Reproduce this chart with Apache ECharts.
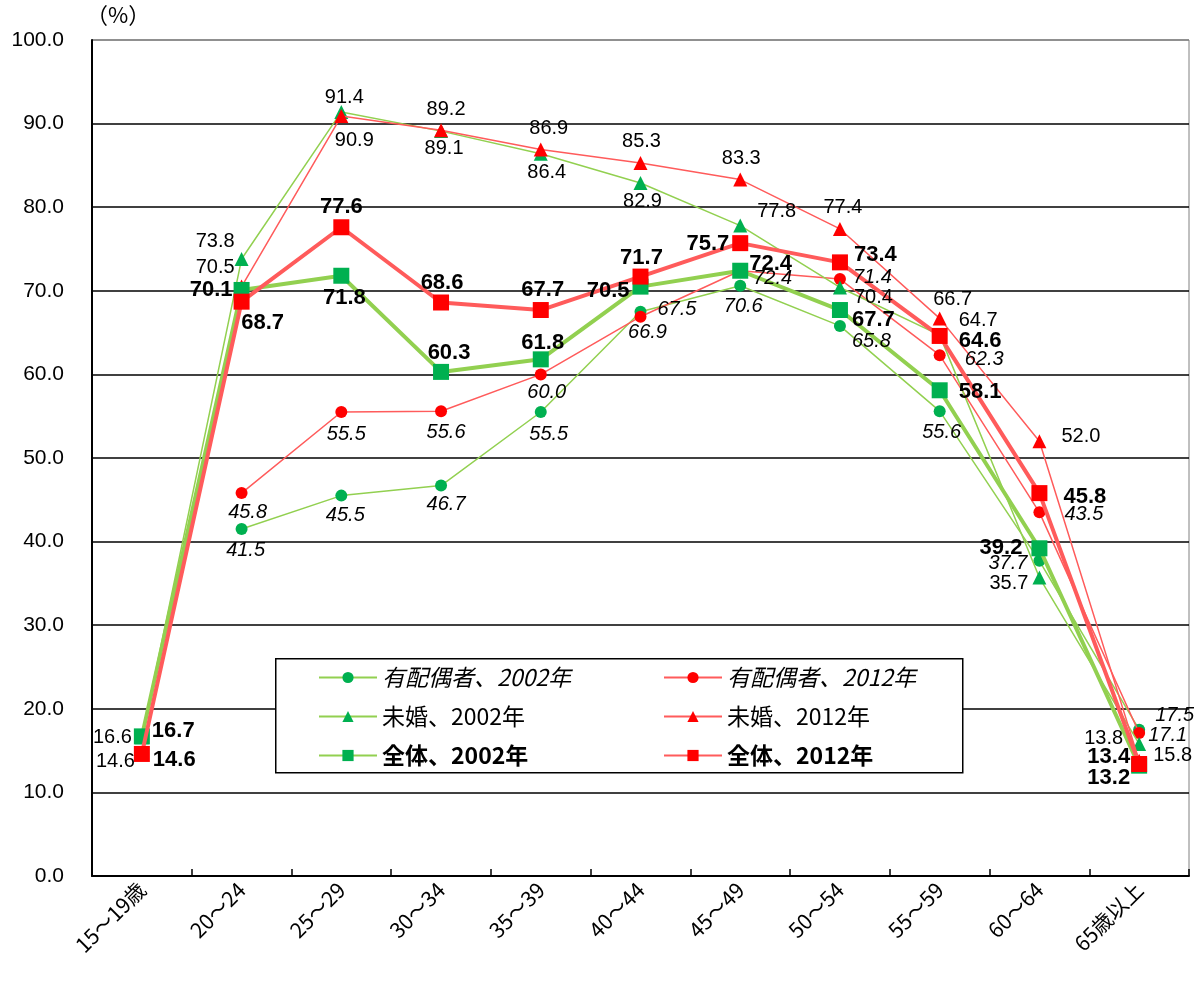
<!DOCTYPE html>
<html>
<head>
<meta charset="utf-8">
<script src="https://cdn.jsdelivr.net/npm/echarts@6/dist/echarts.min.js"></script>
<style>
  html, body { margin: 0; padding: 0; background: #fff; }
  #chart { width: 1194px; height: 981px; }
</style>
</head>
<body>
<div id="chart"></div>
<script>
// Age groups on the x axis
const categories = ['15～19歳', '20～24', '25～29', '30～34', '35～39', '40～44', '45～49', '50～54', '55～59', '60～64', '65歳以上'];

// Participation rates (%)
const spouse2002 = [null, 41.5, 45.5, 46.7, 55.5, 67.5, 70.6, 65.8, 55.6, 37.7, 17.5];
const spouse2012 = [null, 45.8, 55.5, 55.6, 60.0, 66.9, 72.4, 71.4, 62.3, 43.5, 17.1];
const single2002 = [16.6, 73.8, 91.4, 89.1, 86.4, 82.9, 77.8, 70.4, 64.7, 35.7, 15.8];
const single2012 = [14.6, 70.5, 90.9, 89.2, 86.9, 85.3, 83.3, 77.4, 66.7, 52.0, 13.8];
const total2002  = [16.7, 70.1, 71.8, 60.3, 61.8, 70.5, 72.4, 67.7, 58.1, 39.2, 13.2];
const total2012  = [14.6, 68.7, 77.6, 68.6, 67.7, 71.7, 75.7, 73.4, 64.6, 45.8, 13.4];

// Y axis tick settings
const yMin = 0, yMax = 100, yStep = 10;

// Label placement per point: [position, distance, dx, dy]
const placeSpouse2002 = [null, ['bottom', 5, 4, 0], ['bottom', 4, 4, 0], ['bottom', 3, 5, 0], ['bottom', 6, 8, 0], ['right', 11, 0, -2],
  ['bottom', 5, 3, 0], ['right', 4, 2, 16], ['bottom', 5, 2, 0], ['left', 6, 0, 3], ['right', 5, 5, -14]];
const placeSpouse2012 = [null, ['bottom', 3, 6, 0], ['bottom', 6, 5, 0], ['bottom', 5, 5, 0], ['bottom', 2, 6, 0], ['bottom', 0, 7, 0],
  ['right', 4, 3, 8], ['right', 7, 0, -2], ['right', 19, 0, 4], ['right', 19, 0, 2], ['right', 3, 0, 2]];
const placeSingle2002 = [['left', 3, 0, 0], ['left', 0, 0, -18], ['top', -3, 3, 0], ['bottom', 0, 3, 0], ['bottom', 2, 6, 0], ['bottom', 2, 2, 0],
  ['right', 4, 6, -14], ['right', 4, 3, 10], ['right', 4, 8, -15], ['left', 4, 0, 6], ['right', 4, 3, 12]];
const placeSingle2012 = [['left', 0, 0, 8], ['left', 0, 0, -19], ['bottom', 4, 13, 3], ['top', 4, 5, 0], ['top', 4, 8, 0], ['top', 4, 1, 0],
  ['top', 4, 1, 0], ['top', 4, 3, 0], ['top', 4, 13, 2], ['right', 15, 0, -5], ['left', 9, 0, -22]];
const placeTotal2002 = [['right', 2, 0, -5], ['left', 1, 0, 0], ['bottom', 3, 3, 0], ['top', 0, 8, 0], ['top', -3, 2, 0], ['left', 3, 0, 4],
  ['right', 1, 0, -7], ['right', 4, 0, 10], ['right', 11, 0, 2], ['left', 9, 0, 0], ['left', 1, 0, 12]];
const placeTotal2012 = [['right', 3, 0, 6], ['bottom', 2, 21, 0], ['top', 1, 0, 0], ['top', 1, 1, 0], ['top', 1, 2, 0], ['top', 0, 1, 0],
  ['left', 3, 0, 1], ['right', 6, 0, -7], ['right', 11, 0, 5], ['right', 16, 0, 4], ['left', 1, 0, -7]];

const GREEN_LINE = '#92D050', GREEN_MARK = '#00B050';
const RED_LINE = '#FF5B5B', RED_MARK = '#FF0000';
const NUM_FONT = '"Liberation Sans", Arial, "Noto Sans CJK JP", sans-serif';
const JP_FONT = '"Noto Sans CJK JP", "Liberation Sans", sans-serif';

function buildData(values, places) {
  return values.map((v, i) => {
    if (v == null) return null;
    const p = places[i];
    return {
      value: v,
      label: { position: p[0], distance: p[1], offset: [p[2], p[3]] }
    };
  });
}

// Each group is drawn as a visible line series plus a transparent twin
// above every line that carries the value labels, so no line covers a label.
function makeSeries(name, values, places, opt) {
  const lineSeries = {
    name: name,
    type: 'line',
    data: values,
    symbol: opt.symbol,
    symbolSize: opt.size,
    showAllSymbol: true,
    connectNulls: false,
    lineStyle: { color: opt.line, width: opt.width },
    itemStyle: { color: opt.mark },
    z: opt.z,
    label: { show: false },
    emphasis: { disabled: true },
    animation: false
  };
  const labelSeries = {
    name: name + '（数値）',
    type: 'line',
    data: buildData(values, places),
    symbol: opt.symbol,
    symbolSize: opt.size,
    showAllSymbol: true,
    connectNulls: false,
    lineStyle: { opacity: 0, width: 0 },
    itemStyle: { color: 'rgba(0,0,0,0)' },
    z: 20,
    silent: true,
    label: {
      show: true,
      color: '#000',
      fontFamily: NUM_FONT,
      fontSize: opt.fontSize,
      fontStyle: opt.fontStyle || 'normal',
      fontWeight: opt.fontWeight || 'normal',
      formatter: p => p.value.toFixed(1)
    },
    emphasis: { disabled: true },
    animation: false
  };
  return [lineSeries, labelSeries];
}

const series = [].concat(
  makeSeries('有配偶者、2002年', spouse2002, placeSpouse2002, { symbol: 'circle', size: 12, line: GREEN_LINE, mark: GREEN_MARK, width: 1.5, fontSize: 20, fontStyle: 'italic', z: 2 }),
  makeSeries('有配偶者、2012年', spouse2012, placeSpouse2012, { symbol: 'circle', size: 12, line: RED_LINE, mark: RED_MARK, width: 1.5, fontSize: 20, fontStyle: 'italic', z: 3 }),
  makeSeries('未婚、2002年', single2002, placeSingle2002, { symbol: 'triangle', size: 14, line: GREEN_LINE, mark: GREEN_MARK, width: 1.5, fontSize: 20, z: 4 }),
  makeSeries('未婚、2012年', single2012, placeSingle2012, { symbol: 'triangle', size: 14, line: RED_LINE, mark: RED_MARK, width: 1.5, fontSize: 20, z: 5 }),
  makeSeries('全体、2002年', total2002, placeTotal2002, { symbol: 'rect', size: 16, line: GREEN_LINE, mark: GREEN_MARK, width: 4, fontSize: 22, fontWeight: 'bold', z: 6 }),
  makeSeries('全体、2012年', total2012, placeTotal2012, { symbol: 'rect', size: 16, line: RED_LINE, mark: RED_MARK, width: 4, fontSize: 22, fontWeight: 'bold', z: 7 })
);

// Legend: 2002 entries in the left column, 2012 entries in the right column
const legendLeft = [
  { name: '有配偶者、2002年', textStyle: { fontStyle: 'italic' } },
  { name: '未婚、2002年' },
  { name: '全体、2002年', textStyle: { fontWeight: 'bold' } }
];
const legendRight = [
  { name: '有配偶者、2012年', textStyle: { fontStyle: 'italic' } },
  { name: '未婚、2012年' },
  { name: '全体、2012年', textStyle: { fontWeight: 'bold' } }
];

function legendColumn(data, left) {
  return {
    data: data,
    left: left, top: 666,
    orient: 'vertical',
    padding: 0,
    itemGap: 16,
    itemWidth: 58,
    itemHeight: 14,
    selectedMode: false,
    z: 30,
    textStyle: { fontFamily: JP_FONT, fontSize: 23, color: '#000' }
  };
}

const splitColors = [];
for (let v = yMin; v <= yMax; v += yStep) splitColors.push(v === yMax ? '#808080' : '#000');

const chart = echarts.init(document.getElementById('chart'), null, { renderer: 'canvas' });
chart.setOption({
  animation: false,
  backgroundColor: '#fff',
  grid: {
    left: 92, right: 5, top: 40, bottom: 105,
    show: true, borderColor: '#808080', borderWidth: 1
  },
  // Frame behind the legend
  graphic: [{
    type: 'rect',
    left: 275, top: 658, z: 25,
    shape: { width: 687, height: 114 },
    style: { fill: '#fff', stroke: '#000', lineWidth: 1.5 }
  }],
  legend: [legendColumn(legendLeft, 318), legendColumn(legendRight, 663)],
  xAxis: {
    type: 'category',
    data: categories,
    boundaryGap: true,
    axisLine: { lineStyle: { color: '#000', width: 2 } },
    axisTick: { show: true, inside: true, length: 7, lineStyle: { color: '#000', width: 1.5 } },
    axisLabel: { rotate: 45, margin: 10, fontSize: 21, color: '#000', fontFamily: JP_FONT, interval: 0 },
    splitLine: { show: false }
  },
  yAxis: {
    type: 'value',
    min: yMin, max: yMax, interval: yStep,
    name: '（%）',
    nameLocation: 'end',
    nameGap: 14,
    nameTextStyle: { color: '#000', fontSize: 22, fontFamily: JP_FONT, align: 'left', padding: [0, 0, 0, -6] },
    axisLine: { show: true, lineStyle: { color: '#000', width: 2 } },
    axisTick: { show: false },
    axisLabel: { margin: 28, fontSize: 21, color: '#000', fontFamily: NUM_FONT, formatter: v => v.toFixed(1) },
    splitLine: { show: true, lineStyle: { color: splitColors, width: 1.5 } }
  },
  series: series
});
</script>
</body>
</html>
